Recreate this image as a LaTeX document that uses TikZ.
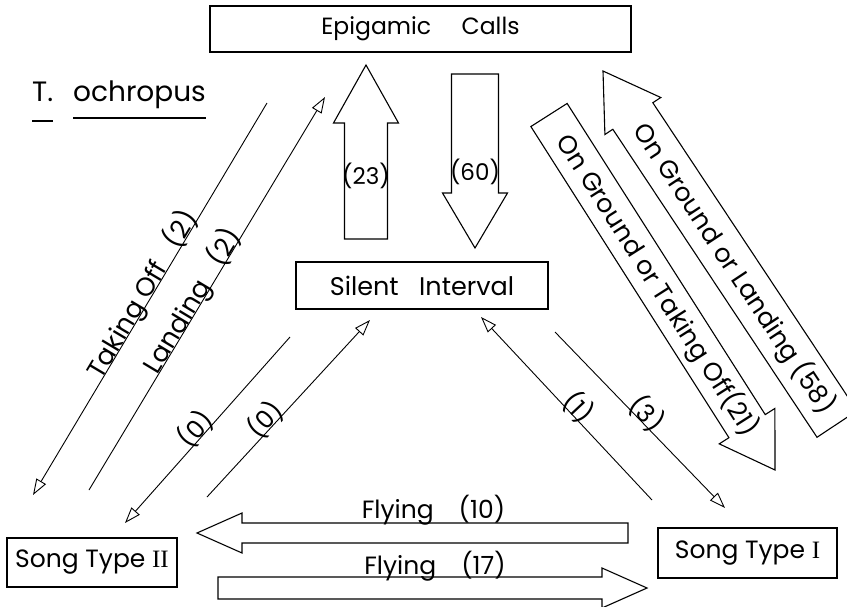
\documentclass[tikz,border=0pt]{standalone}
\usepackage{fontspec}
\setmainfont{Poppins}
\newfontfamily\numfont{Liberation Serif}
\usetikzlibrary{arrows.meta, calc, positioning}

% open block arrow: [opts] from, to, shaft half width, head half width, head length
\newcommand\blockarrow[6][]{%
  \coordinate (ba-h) at ($(#3)!#6!(#2)$);
  \draw[blockarr, #1] ($(#2)!#4!90:(#3)$) -- ($(ba-h)!#4!90:(#3)$)
    -- ($(ba-h)!#5!90:(#3)$) -- (#3) -- ($(ba-h)!#5!-90:(#3)$)
    -- ($(ba-h)!#4!-90:(#3)$) -- ($(#2)!#4!-90:(#3)$) -- cycle;
}

\begin{document}
\begin{tikzpicture}[x=1pt, y=-1pt,
  box/.style={draw, line width=1.3pt, inner sep=0pt, font=\fontsize{25}{28}\selectfont},
  lbl/.style={font=\fontsize{25}{28}\selectfont, inner sep=1pt},
  online/.style={lbl, sloped, anchor=base, inner sep=0pt},
  title/.style={font=\fontsize{28}{32}\selectfont, inner sep=0pt},
  blockarr/.style={line width=1.1pt, line join=miter},
  thinarr/.style={-{Triangle[open, length=16pt, width=11pt]}, line width=0.9pt},
  uline/.style={line width=1.3pt}
]
  \useasboundingbox (0,0) rectangle (847,606);

  % boxes
  \node[box, minimum width=421pt, minimum height=46pt, font=\fontsize{23.5}{26}\selectfont] (epi) at (420.5,29) {Epigamic\hspace{1.3em}Calls};
  \node[box, minimum width=252pt, minimum height=47pt, font=\fontsize{25.5}{28}\selectfont] (sil) at (422,285.5) {Silent\hspace{0.8em}Interval};
  \node[box, minimum width=170pt, minimum height=49pt] (st2) at (92,562.5) {Song Type {\numfont II}};
  \node[box, minimum width=179pt, minimum height=50pt] (st1) at (747.5,553) {Song Type {\numfont I}};

  % species name
  \node[title, anchor=base west] (tgen) at (32,101) {T.};
  \node[title, anchor=base west] (tsp)  at (73,101) {ochropus};
  \draw[uline] ($(tgen.base west)+(0,20)$) -- ($(tgen.base east)+(0,20)$);
  \draw[uline] ($(tsp.base west)+(0,17)$) -- ($(tsp.base east)+(0,17)$);

  % block arrows
  \coordinate (u23a) at (366,239);
  \coordinate (u23b) at (366,65);
  \blockarrow{u23a}{u23b}{21.5pt}{32.5pt}{58pt}
  \coordinate (d60a) at (475,74);
  \coordinate (d60b) at (475,248);
  \blockarrow{d60a}{d60b}{23.5pt}{32.5pt}{55pt}
  \coordinate (og21a) at (549,115);
  \coordinate (og21b) at (775,470);
  \blockarrow{og21a}{og21b}{21.5pt}{33pt}{52pt}
  \coordinate (og58a) at (837,424);
  \coordinate (og58b) at (603,71);
  \blockarrow{og58a}{og58b}{24pt}{33.5pt}{54pt}
  \coordinate (f10a) at (628,533);
  \coordinate (f10b) at (197,533);
  \blockarrow{f10a}{f10b}{10pt}{20pt}{45pt}
  \coordinate (f17a) at (218,588);
  \coordinate (f17b) at (647,588);
  \blockarrow{f17a}{f17b}{11pt}{20pt}{45pt}

  \node[lbl, font=\fontsize{23}{26}\selectfont] (l23) at (366,176) {(23)};
  \node[lbl, font=\fontsize{23}{26}\selectfont] (l60) at (475,172) {(60)};
  \path (og21a) -- node[lbl, sloped, pos=0.48, font=\fontsize{25.5}{28}\selectfont] (l21) {On Ground or Taking Off(21)} (og21b);
  \path (og58a) -- node[lbl, sloped, pos=0.44, font=\fontsize{25.5}{28}\selectfont] (l58) {On Ground or Landing (58)} (og58b);
  \node[lbl, anchor=base] (l10) at (433.5,518) {Flying\hspace{1em}(10)};
  \node[lbl, anchor=base] (l17) at (435,574) {Flying\hspace{1em}(17)};

  % thin arrows
  \coordinate (tk1) at (267,103);
  \coordinate (tk2) at (33,495);
  \draw[thinarr] (tk1) -- node[online, pos=0.5, font=\fontsize{26}{28}\selectfont] (ltk) {Taking Off\hspace{0.8em}(2)} (tk2);
  \coordinate (ld1) at (89,490);
  \coordinate (ld2) at (325,97);
  \draw[thinarr] (ld1) -- node[online, pos=0.47, font=\fontsize{26}{28}\selectfont] (lld) {Landing\hspace{0.8em}(2)} (ld2);
  \coordinate (za1) at (290,337);
  \coordinate (za2) at (125,523);
  \draw[thinarr] (za1) -- node[online, pos=0.53] (lza) {(0)} (za2);
  \coordinate (zb1) at (207,497);
  \coordinate (zb2) at (370,320);
  \draw[thinarr] (zb1) -- node[online, pos=0.4] (lzb) {(0)} (zb2);
  \coordinate (on1) at (652,500);
  \coordinate (on2) at (481,317);
  \draw[thinarr] (on1) -- node[online, pos=0.47] (lon) {(1)} (on2);
  \coordinate (th1) at (555,332);
  \coordinate (th2) at (725,508);
  \draw[thinarr] (th1) -- node[online, pos=0.5] (lth) {(3)} (th2);
\end{tikzpicture}
\end{document}
